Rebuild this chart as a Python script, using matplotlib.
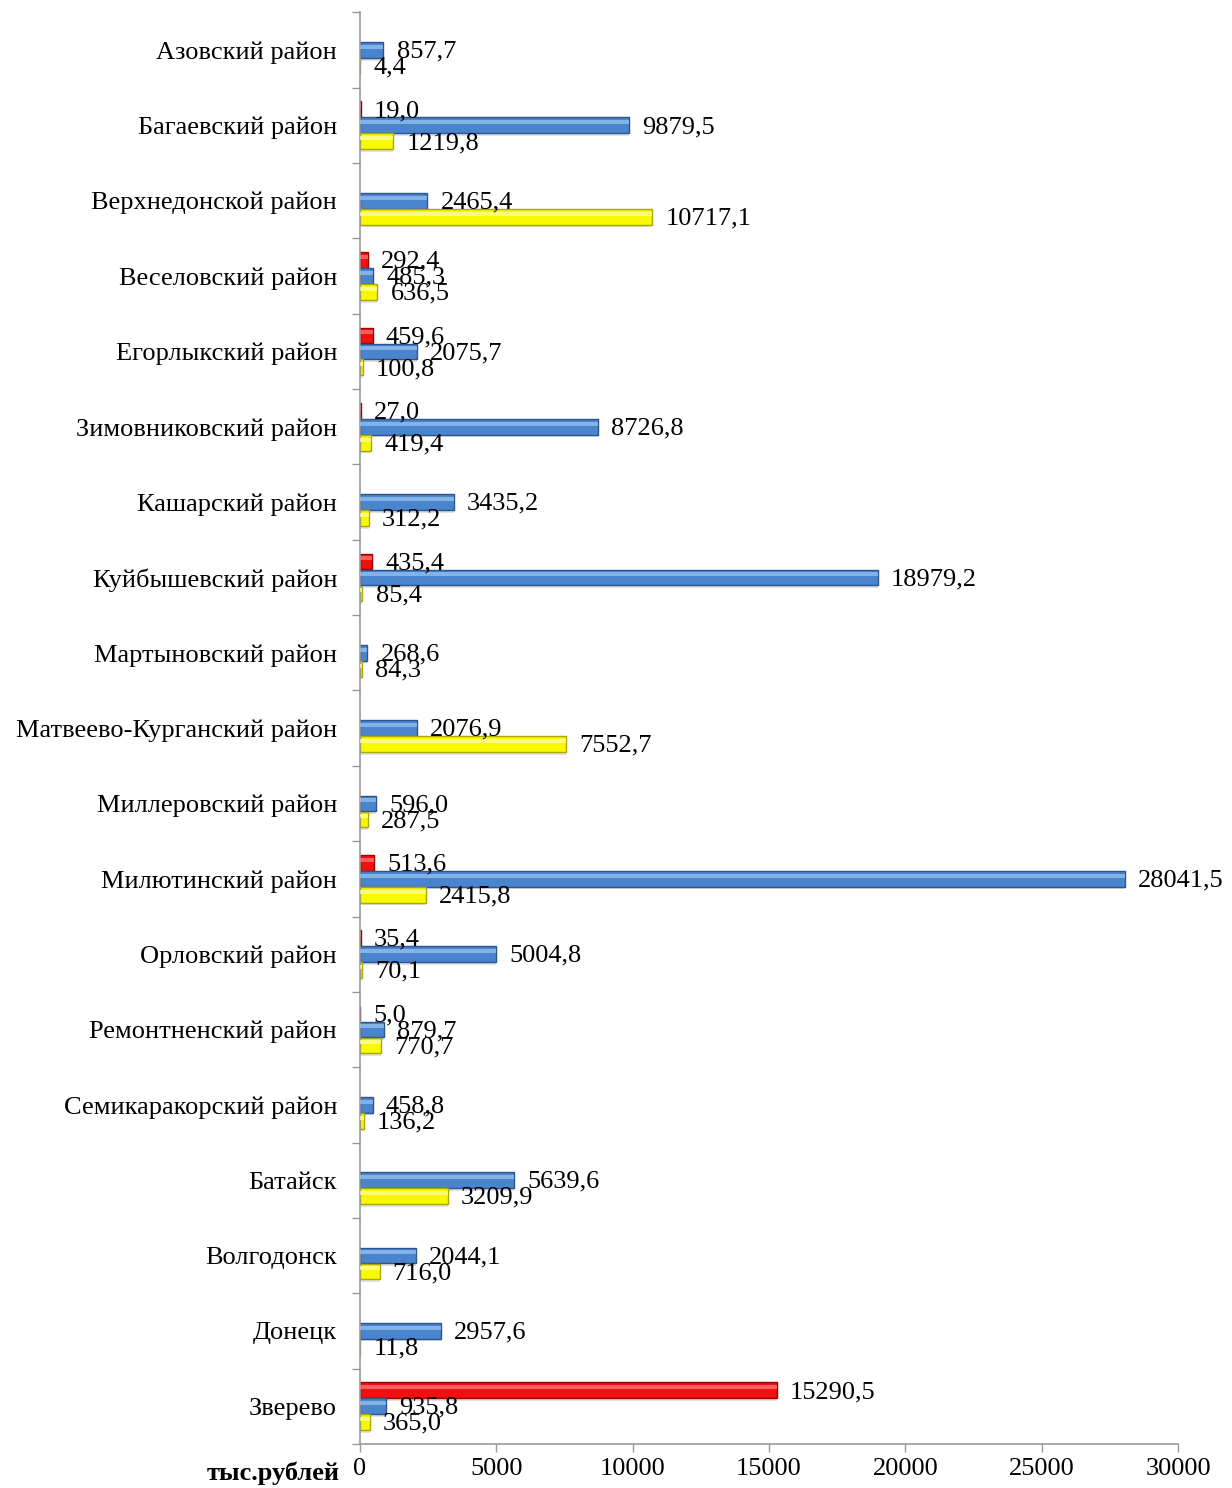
import numpy as np
import matplotlib.pyplot as plt

# Districts / cities (top to bottom)
categories = [
    "Азовский район", "Багаевский район", "Верхнедонской район",
    "Веселовский район", "Егорлыкский район", "Зимовниковский район",
    "Кашарский район", "Куйбышевский район", "Мартыновский район",
    "Матвеево-Курганский район", "Миллеровский район", "Милютинский район",
    "Орловский район", "Ремонтненский район", "Семикаракорский район",
    "Батайск", "Волгодонск", "Донецк", "Зверево",
]

# three series per category (None = no bar)
red_vals = [None, 19.0, None, 292.4, 459.6, 27.0, None, 435.4, None, None,
            None, 513.6, 35.4, 5.0, None, None, None, None, 15290.5]
blue_vals = [857.7, 9879.5, 2465.4, 485.3, 2075.7, 8726.8, 3435.2, 18979.2,
             268.6, 2076.9, 596.0, 28041.5, 5004.8, 879.7, 458.8, 5639.6,
             2044.1, 2957.6, 935.8]
yellow_vals = [4.4, 1219.8, 10717.1, 636.5, 100.8, 419.4, 312.2, 85.4, 84.3,
               7552.7, 287.5, 2415.8, 70.1, 770.7, 136.2, 3209.9, 716.0, 11.8,
               365.0]

x_ticks = [0, 5000, 10000, 15000, 20000, 25000, 30000]

plt.rcParams['font.family'] = ['Liberation Serif', 'DejaVu Serif']

fig = plt.figure(figsize=(12.32, 14.88), dpi=100)
ax = fig.add_axes([0.2922, 0.0296, 0.664, 0.9621])

y = np.arange(len(categories))
h = 0.21
step = 0.212

series = [
    (red_vals, -step, "#F01010", "#FF8080", "#A00000"),
    (blue_vals, 0.0, "#4A84CC", "#9CC6F2", "#2A5590"),
    (yellow_vals, step, "#F8F800", "#FFFFB0", "#A8A800"),
]

for vals, off, col, light, dark in series:
    v = np.array([np.nan if a is None else a for a in vals], dtype=float)
    mask = ~np.isnan(v)
    yy = y[mask] + off
    vv = v[mask]
    # soft shadow
    ax.barh(yy + 0.035, vv, height=h, left=0, color="#000000", alpha=0.12,
            linewidth=0, zorder=1)
    ax.barh(yy, vv, height=h, color=col, edgecolor=dark, linewidth=1.0, zorder=2)
    # highlight strip to imitate the bevel
    ax.barh(yy - h * 0.2, vv, height=h * 0.25, color=light, alpha=0.7,
            linewidth=0, zorder=3)
    for yi, vi in zip(yy, vv):
        ax.annotate(f"{vi:.1f}".replace(".", ","), xy=(vi, yi),
                    xytext=(9.5, -1.2), textcoords="offset points",
                    ha="left", va="center", fontsize=19, color="black",
                    zorder=5, annotation_clip=False)

ax.set_xlim(0, 30000)
ax.set_ylim(len(categories) - 0.5, -0.5)

ax.set_yticks(y)
ax.set_yticklabels(categories, fontsize=19)
ax.set_yticks(np.arange(len(categories) + 1) - 0.5, minor=True)
ax.tick_params(axis="y", which="major", length=0, pad=16.5)
ax.tick_params(axis="y", which="minor", length=6, color="#999999", width=1)

ax.set_xticks(x_ticks)
ax.set_xticklabels([str(t) for t in x_ticks], fontsize=19)
ax.tick_params(axis="x", length=6, color="#999999", width=1, pad=4)

for side in ("top", "right"):
    ax.spines[side].set_visible(False)
for side in ("left", "bottom"):
    ax.spines[side].set_color("#999999")
    ax.spines[side].set_linewidth(1.2)

fig.text(340 / 1232, 1 - 1473 / 1488, "тыс.рублей", ha="right", va="center",
         fontsize=19, fontweight="bold")

fig.savefig("out.png", dpi=100, facecolor="white")
